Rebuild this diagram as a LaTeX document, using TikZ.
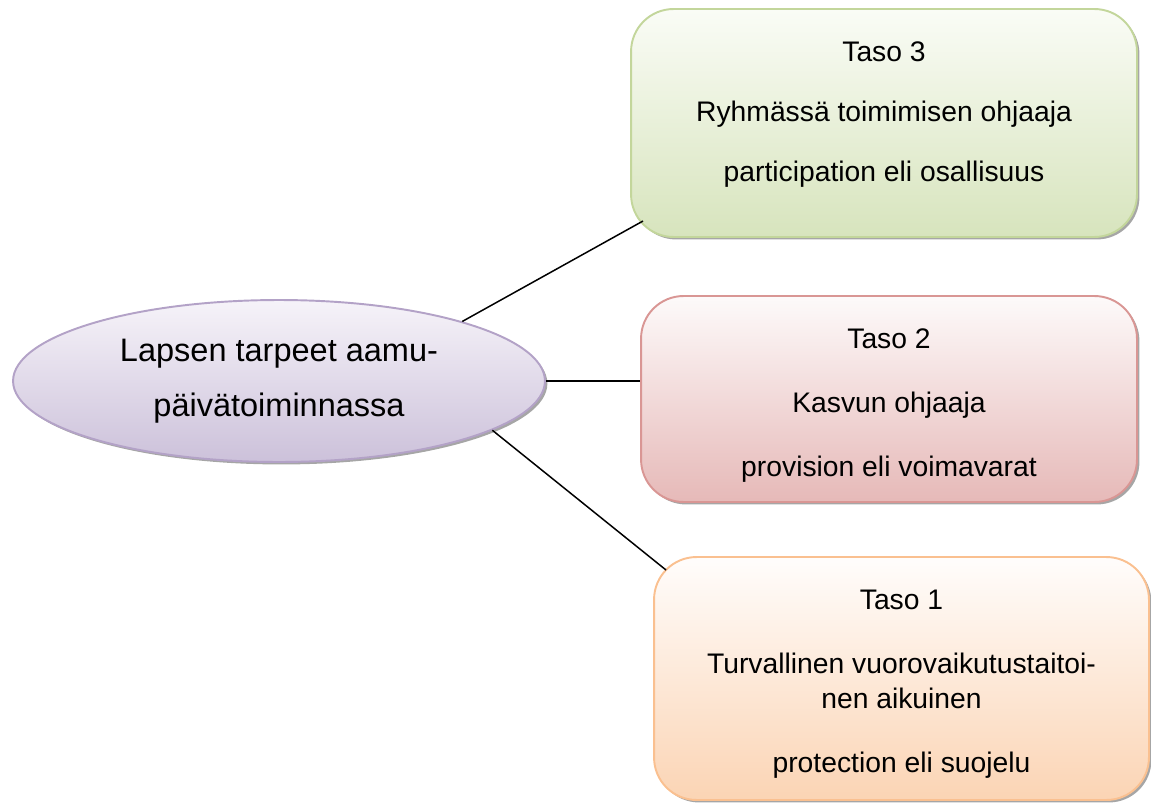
\documentclass[tikz,border=0pt]{standalone}
\usepackage{fontspec}
\setmainfont{Liberation Sans}
\usetikzlibrary{shapes.geometric,shadows,calc}
\definecolor{gline}{HTML}{C3D69B}
\definecolor{gtop}{HTML}{FAFCF6}
\definecolor{gbot}{HTML}{D7E4BD}
\definecolor{rline}{HTML}{D99694}
\definecolor{rtop}{HTML}{FDFAFA}
\definecolor{rbot}{HTML}{E6B9B8}
\definecolor{oline}{HTML}{FAC090}
\definecolor{otop}{HTML}{FFFDFC}
\definecolor{obot}{HTML}{FBD4B4}
\definecolor{pline}{HTML}{B3A2C7}
\definecolor{ptop}{HTML}{F6F3F9}
\definecolor{pbot}{HTML}{CCC1DA}
\begin{document}
\begin{tikzpicture}[x=0.02cm,y=-0.02cm,
  boxshape/.style={rectangle, rounded corners=0.85cm, line width=1.1pt, inner sep=0pt,
    drop shadow={shadow xshift=1.4pt, shadow yshift=-1.4pt, opacity=0.35, fill=black}},
  txt/.style={align=center, inner sep=0pt, anchor=north,
    font=\fontsize{16.1pt}{19.9pt}\selectfont},
  link/.style={draw=black, line width=0.85pt}]
\useasboundingbox (0,0) rectangle (1151,804);
% central ellipse
\node[ellipse, draw=pline, line width=1.1pt, top color=ptop, bottom color=pbot,
  minimum width=10.64cm, minimum height=3.24cm, inner sep=0pt, align=center,
  drop shadow={shadow xshift=1.4pt, shadow yshift=-1.4pt, opacity=0.35, fill=black},
  font=\fontsize{18.5pt}{31.3pt}\selectfont] (ell) at (279,381)
  {Lapsen tarpeet aamu-\\päivätoiminnassa};
% boxes
\node[boxshape, draw=gline, top color=gtop, bottom color=gbot,
  minimum width=10.12cm, minimum height=4.56cm] (b3) at (884,123) {};
\node[boxshape, draw=rline, top color=rtop, bottom color=rbot,
  minimum width=9.92cm, minimum height=4.12cm] (b2) at (889,399) {};
\node[boxshape, draw=oline, top color=otop, bottom color=obot,
  minimum width=9.9cm, minimum height=4.86cm] (b1) at (901.5,678.5) {};
% texts
\node[txt] (t3) at (884,41.5) {Taso 3\\[0.5cm]Ryhmässä toimimisen ohjaaja\\[0.5cm]participation eli osallisuus};
\node[txt] (t2) at (889,328.5) {Taso 2\\[0.58cm]Kasvun ohjaaja\\[0.58cm]provision eli voimavarat};
\node[txt] (t1) at (901.5,589.5) {Taso 1\\[0.58cm]Turvallinen vuorovaikutustaitoi-\\nen aikuinen\\[0.58cm]protection eli suojelu};
% connector ends on the rounded corners
\coordinate (c3) at (643,221);
\coordinate (c1) at (666,570);
\draw[link] (ell.18.6) -- (c3);
\draw[link] (ell.east) -- (b2.west |- ell.east);
\draw[link] (ell.-13.9) -- (c1);
\end{tikzpicture}
\end{document}
